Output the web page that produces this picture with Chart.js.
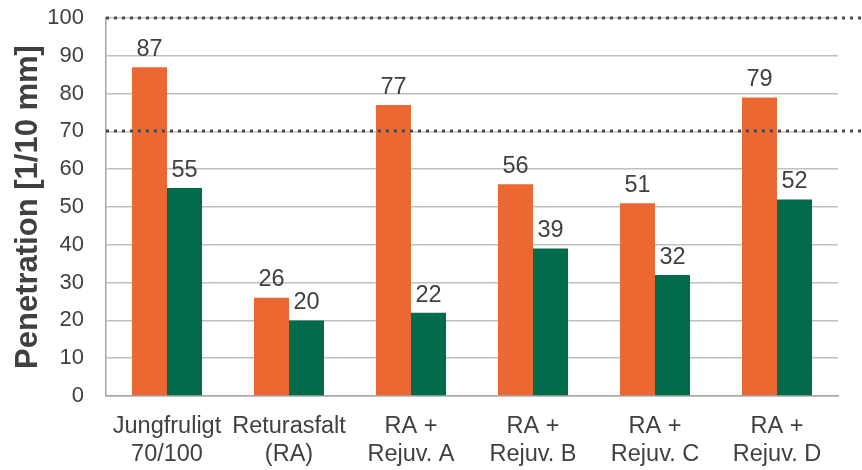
<!DOCTYPE html>
<html>
<head>
<meta charset="utf-8">
<script src="https://cdn.jsdelivr.net/npm/chart.js@4/dist/chart.umd.min.js"></script>
<style>
  html, body { margin: 0; padding: 0; background: #fff; }
  #wrap { width: 862px; height: 470px; }
</style>
</head>
<body>
<div id="wrap"><canvas id="chart" width="862" height="470"></canvas></div>
<script>
// Chart data
const categories = [
    ['Jungfruligt', '70/100'],
    ['Returasfalt', '(RA)'],
    ['RA +', 'Rejuv. A'],
    ['RA +', 'Rejuv. B'],
    ['RA +', 'Rejuv. C'],
    ['RA +', 'Rejuv. D']
];
const seriesOrange = [87, 26, 77, 56, 51, 79];
const seriesGreen = [55, 20, 22, 39, 32, 52];
const limitLines = [70, 100];

const textColor = '#404040';
const fontFamily = '"Liberation Sans", Arial, sans-serif';

// Dotted limit lines, run past the plot area to the canvas edge
const limitLinePlugin = {
    id: 'limitLines',
    afterDatasetsDraw(chart) {
        const ctx = chart.ctx;
        const y = chart.scales.y;
        ctx.save();
        ctx.strokeStyle = '#4a4a4a';
        ctx.lineWidth = 3;
        ctx.setLineDash([3, 5]);
        limitLines.forEach(v => {
            const py = Math.round(y.getPixelForValue(v));
            ctx.beginPath();
            ctx.moveTo(chart.chartArea.left, py);
            ctx.lineTo(chart.width, py);
            ctx.stroke();
        });
        ctx.restore();
    }
};

// Value labels above each bar
const valueLabelPlugin = {
    id: 'valueLabels',
    afterDatasetsDraw(chart) {
        const ctx = chart.ctx;
        ctx.save();
        ctx.font = '23.5px ' + fontFamily;
        ctx.fillStyle = textColor;
        ctx.textAlign = 'center';
        ctx.textBaseline = 'bottom';
        chart.data.datasets.forEach((ds, i) => {
            chart.getDatasetMeta(i).data.forEach((bar, j) => {
                ctx.fillText(ds.data[j], bar.x, bar.y - 6);
            });
        });
        ctx.restore();
    }
};

new Chart(document.getElementById('chart'), {
    type: 'bar',
    data: {
        labels: categories,
        datasets: [
            {
                data: seriesOrange,
                backgroundColor: '#EB6833',
                categoryPercentage: 0.574,
                barPercentage: 1
            },
            {
                data: seriesGreen,
                backgroundColor: '#016B4C',
                categoryPercentage: 0.574,
                barPercentage: 1
            }
        ]
    },
    options: {
        responsive: false,
        animation: false,
        layout: { padding: { top: 18, right: 24, left: 0, bottom: 0 } },
        plugins: {
            legend: { display: false },
            tooltip: { enabled: false }
        },
        scales: {
            x: {
                grid: { display: false },
                border: { display: true, color: '#A6A6A6', width: 1.5 },
                ticks: {
                    color: textColor,
                    font: { size: 23.5, family: fontFamily, lineHeight: 1.2 },
                    padding: 8,
                    maxRotation: 0
                },
                afterFit(scale) { scale.height = 74; }
            },
            y: {
                min: 0,
                max: 100,
                grid: { color: '#BFBFBF', lineWidth: 1.5, drawTicks: false },
                border: { display: true, color: '#A6A6A6', width: 1.5 },
                ticks: {
                    stepSize: 10,
                    color: textColor,
                    font: { size: 22, family: fontFamily },
                    padding: 22
                },
                title: {
                    display: true,
                    text: 'Penetration [1/10 mm]',
                    color: textColor,
                    font: { size: 31, weight: 'bold', family: fontFamily },
                    padding: { top: 10, bottom: 0 }
                },
                afterFit(scale) {
                    scale.width = 106;
                    scale.paddingTop = 0;
                    scale.paddingBottom = 0;
                }
            }
        }
    },
    plugins: [limitLinePlugin, valueLabelPlugin]
});
</script>
</body>
</html>
